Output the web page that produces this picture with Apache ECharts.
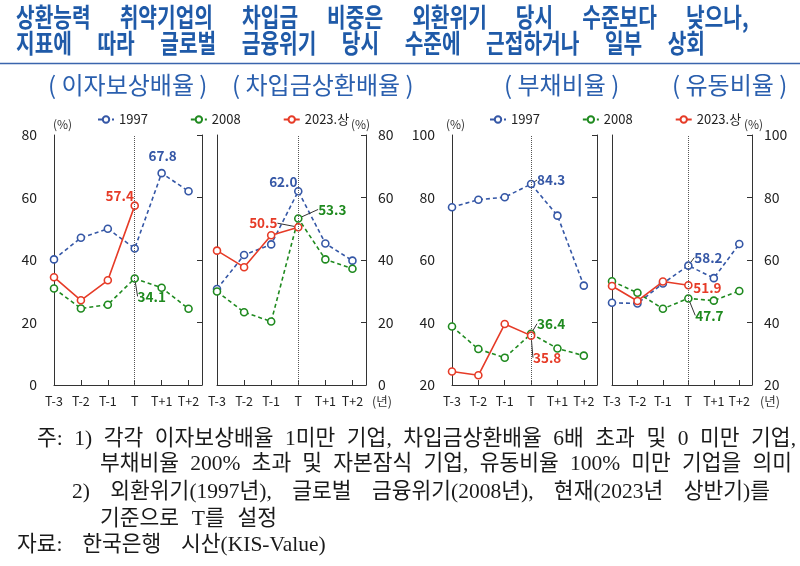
<!DOCTYPE html>
<html><head><meta charset="utf-8">
<script src="https://cdn.jsdelivr.net/npm/echarts@6/dist/echarts.min.js"></script>
<style>html,body{margin:0;padding:0;background:#fff}#c{width:800px;height:566px}</style>
</head><body><div id="c"></div>
<script>
const categories = ['T-3', 'T-2', 'T-1', 'T', 'T+1', 'T+2'];
const seriesNames = ['1997', '2008', '2023.상'];
// 이자보상배율
const icr1997 = [40.2, 47.1, 50.0, 43.7, 67.8, 62.0];
const icr2008 = [30.9, 24.5, 25.7, 34.1, 31.1, 24.4];
const icr2023 = [34.5, 27.1, 33.5, 57.4];
// 차입금상환배율
const drr1997 = [30.7, 41.6, 45.0, 62.0, 45.3, 39.8];
const drr2008 = [29.9, 23.3, 20.3, 53.3, 40.2, 37.2];
const drr2023 = [43.0, 37.7, 47.9, 50.5];
// 부채비율
const debt1997 = [76.9, 79.3, 80.1, 84.3, 74.2, 51.8];
const debt2008 = [38.7, 31.5, 28.7, 36.4, 31.7, 29.4];
const debt2023 = [24.3, 23.1, 39.5, 35.8];
// 유동비율
const cur1997 = [46.3, 46.1, 52.5, 58.2, 54.2, 65.1];
const cur2008 = [53.2, 49.5, 44.4, 47.7, 47.0, 50.1];
const cur2023 = [51.7, 46.9, 53.1, 51.9];
const yTicksA = [0, 20, 40, 60, 80];
const yTicksB = [20, 40, 60, 80, 100];

const titleLines = ['상환능력 취약기업의 차입금 비중은 외환위기 당시 수준보다 낮으나,',
                    '지표에 따라 글로벌 금융위기 당시 수준에 근접하거나 일부 상회'];
const panelTitles = ['( 이자보상배율 )', '( 차입금상환배율 )', '( 부채비율 )', '( 유동비율 )'];
const noteLines = ['주: 1) 각각 이자보상배율 1미만 기업, 차입금상환배율 6배 초과 및 0 미만 기업,',
                   '부채비율 200% 초과 및 자본잠식 기업, 유동비율 100% 미만 기업을 의미',
                   '2) 외환위기(1997년), 글로벌 금융위기(2008년), 현재(2023년 상반기)를',
                   '기준으로 T를 설정',
                   '자료: 한국은행 시산(KIS-Value)'];

const BLUE = '#3557a6', GREEN = '#1f8a1f', RED = '#e63b27';
const FONT = "'Noto Sans CJK KR', sans-serif";
const NOTEFONT = "'Liberation Serif', 'Noto Sans CJK KR', serif";
const TITLEC = '#1f5aa8';

const grids = [
  {left: 54, top: 135, width: 148, height: 250},
  {left: 217, top: 135, width: 149, height: 250},
  {left: 452, top: 135, width: 145, height: 250},
  {left: 612, top: 135, width: 140, height: 250}
];
const yTicks = [yTicksA, yTicksA, yTicksB, yTicksB];
const labelSide = ['left', 'right', 'left', 'right'];

const xAxes = [], yAxes = [];
grids.forEach((g, i) => {
  xAxes.push({
    gridIndex: i, type: 'value', min: 0, max: categories.length - 0.5, interval: 1,
    axisLine: {show: true, lineStyle: {color: '#333', width: 1}},
    axisTick: {show: true, inside: true, length: 5, lineStyle: {color: '#333'}},
    axisLabel: {color: '#222', fontSize: 12.5, fontFamily: FONT, margin: 10, showMaxLabel: false,
      formatter: v => (Number.isInteger(v) && categories[v]) ? categories[v] : ''},
    splitLine: {show: false}
  });
  const t = yTicks[i];
  const common = {gridIndex: i, type: 'value', min: t[0], max: t[t.length - 1], interval: t[1] - t[0], splitLine: {show: false}};
  const leftLab = labelSide[i] === 'left';
  yAxes.push(Object.assign({}, common, {
    position: 'left',
    axisLine: {show: true, onZero: false, lineStyle: {color: '#333'}},
    axisTick: {show: false},
    axisLabel: {show: leftLab, color: '#222', fontSize: 14, fontFamily: FONT, margin: 17}
  }));
  yAxes.push(Object.assign({}, common, {
    position: 'right',
    axisLine: {show: true, onZero: false, lineStyle: {color: '#333'}},
    axisTick: {show: true, inside: true, length: 5, lineStyle: {color: '#333'}},
    axisLabel: {show: !leftLab, color: '#222', fontSize: 14, fontFamily: FONT, margin: 12}
  }));
});

function mk(name, vals, gi, color, dashed, lab, withMark) {
  const s = {
    name: name, type: 'line', xAxisIndex: gi, yAxisIndex: gi * 2,
    symbol: 'circle', symbolSize: 7, showSymbol: true,
    lineStyle: {color: color, width: 1.6, type: dashed ? [4, 3] : 'solid'},
    itemStyle: {color: '#fff', borderColor: color, borderWidth: 1.6},
    data: vals.map((v, i) => ({value: [i, v]})),
    label: {show: false},
    z: dashed ? 2 : 3
  };
  if (lab) {
    s.data[lab.idx].label = {
      show: true, position: 'inside', color: color, fontWeight: 'bold', fontSize: 13.5, fontFamily: FONT,
      formatter: p => p.value[1].toFixed(1)
    };
    s.labelLayout = p => (p.dataIndex === lab.idx ? {dx: lab.dx, dy: lab.dy} : {});
    s.labelLine = {show: !!lab.line, lineStyle: {color: '#333', width: 1}, length2: 0};
  }
  if (withMark) {
    s.markLine = {
      silent: true, symbol: 'none', label: {show: false},
      lineStyle: {type: 'dotted', color: '#555', width: 1},
      data: [{xAxis: 3}]
    };
  }
  return s;
}

const series = [
  mk(seriesNames[0], icr1997, 0, BLUE, true, {idx: 4, dx: 1, dy: -17}, true),
  mk(seriesNames[1], icr2008, 0, GREEN, true, {idx: 3, dx: 17, dy: 18, line: true}),
  mk(seriesNames[2], icr2023, 0, RED, false, {idx: 3, dx: -15, dy: -10}),
  mk(seriesNames[0], drr1997, 1, BLUE, true, {idx: 3, dx: -15, dy: -9}, true),
  mk(seriesNames[1], drr2008, 1, GREEN, true, {idx: 3, dx: 34, dy: -9, line: true}),
  mk(seriesNames[2], drr2023, 1, RED, false, {idx: 3, dx: -35, dy: -4, line: true}),
  mk(seriesNames[0], debt1997, 2, BLUE, true, {idx: 3, dx: 20, dy: -4, line: true}, true),
  mk(seriesNames[1], debt2008, 2, GREEN, true, {idx: 3, dx: 20, dy: -10, line: true}),
  mk(seriesNames[2], debt2023, 2, RED, false, {idx: 3, dx: 16, dy: 22, line: true}),
  mk(seriesNames[0], cur1997, 3, BLUE, true, {idx: 3, dx: 20, dy: -8, line: true}, true),
  mk(seriesNames[1], cur2008, 3, GREEN, true, {idx: 3, dx: 21, dy: 17, line: true}),
  mk(seriesNames[2], cur2023, 3, RED, false, {idx: 3, dx: 19, dy: 3})
];

// width estimate in em: Hangul advance ~0.92em here, Latin uses Times/Liberation Serif metrics
const EM = {'0': .5, '1': .5, '2': .5, '3': .5, '4': .5, '5': .5, '6': .5, '7': .5, '8': .5, '9': .5,
  '(': .333, ')': .333, ',': .25, '.': .25, ':': .278, '%': .833, '-': .333, 'T': .611, 'K': .722,
  'I': .333, 'S': .556, 'V': .722, 'a': .444, 'l': .278, 'u': .5, 'e': .444};
function emWidth(s, hEm) {
  let w = 0;
  for (const ch of s) {
    const c = ch.charCodeAt(0);
    w += (c >= 0xAC00 && c <= 0xD7A3) ? hEm : (EM[ch] !== undefined ? EM[ch] : .5);
  }
  return w;
}
// justified word layout between x0 and x1 (the source text is justified)
function fitWords(text, font, px, x0, x1, yc, fill, sc, hEm) {
  const words = text.split(' ');
  const ws = words.map(w => emWidth(w, hEm) * px * sc);
  const total = ws.reduce((a, b) => a + b, 0);
  const gap = words.length > 1 ? Math.max(4, (x1 - x0 - total) / (words.length - 1)) : 0;
  const els = [];
  let x = x0;
  words.forEach((w, i) => {
    els.push({type: 'text', x: x, y: yc, scaleX: sc, scaleY: 1,
      style: {text: w, font: font, fill: fill, verticalAlign: 'middle', align: 'left'}});
    x += ws[i] + gap;
  });
  return els;
}
function txt(x, y, text, style) {
  return {type: 'text', left: x, top: y, style: Object.assign({text: text, fill: '#222', font: '14px ' + FONT}, style || {})};
}
const TPX = 26, NPX = 21.5;
const TF = 'bold ' + TPX + 'px ' + FONT;
const PF = '24px ' + FONT;
const NF = NPX + 'px ' + NOTEFONT;
const NC = '#1a1a1a';
const PC = '#2a5fae';
const graphic = [].concat(
  fitWords(titleLines[0], TF, TPX, 16, 747, 17, TITLEC, 0.78, 0.92),
  fitWords(titleLines[1], TF, TPX, 16, 705, 43, TITLEC, 0.78, 0.92),
  [
    {type: 'line', shape: {x1: 0, y1: 63.5, x2: 800, y2: 63.5}, style: {stroke: '#3a65ad', lineWidth: 1.5}},
    {type: 'text', x: 48, y: 85, style: {text: panelTitles[0], font: PF, fill: PC, verticalAlign: 'middle'}},
    {type: 'text', x: 232, y: 85, style: {text: panelTitles[1], font: PF, fill: PC, verticalAlign: 'middle'}},
    {type: 'text', x: 504, y: 85, style: {text: panelTitles[2], font: PF, fill: PC, verticalAlign: 'middle'}},
    {type: 'text', x: 672, y: 85, style: {text: panelTitles[3], font: PF, fill: PC, verticalAlign: 'middle'}},
    txt(53, 118, '(%)', {font: '12px ' + FONT, fill: '#333'}),
    txt(351, 118, '(%)', {font: '12px ' + FONT, fill: '#333'}),
    txt(446, 118, '(%)', {font: '12px ' + FONT, fill: '#333'}),
    txt(744, 118, '(%)', {font: '12px ' + FONT, fill: '#333'}),
    txt(372, 395, '(년)', {font: '12.5px ' + FONT, fill: '#333'}),
    txt(760, 395, '(년)', {font: '12.5px ' + FONT, fill: '#333'})
  ],
  fitWords(noteLines[0], NF, NPX, 37, 796, 439, NC, 1, 0.92),
  fitWords(noteLines[1], NF, NPX, 100, 792, 464, NC, 1, 0.92),
  fitWords(noteLines[2], NF, NPX, 72, 770, 492, NC, 1, 0.92),
  fitWords(noteLines[3], NF, NPX, 100, 277, 519, NC, 1, 0.92),
  fitWords(noteLines[4], NF, NPX, 17, 328, 545, NC, 1, 0.92)
);

const legendCommon = {
  data: seriesNames, itemWidth: 16, itemHeight: 8, itemGap: 42,
  textStyle: {color: '#222', fontSize: 13, fontFamily: FONT}, selectedMode: false
};
const option = {
  animation: false,
  backgroundColor: '#fff',
  grid: grids,
  xAxis: xAxes,
  yAxis: yAxes,
  legend: [
    Object.assign({left: 92, top: 108}, legendCommon),
    Object.assign({left: 484, top: 108}, legendCommon)
  ],
  series: series,
  graphic: graphic
};
const chart = echarts.init(document.getElementById('c'), null, {renderer: 'canvas'});
chart.setOption(option);
</script></body></html>
